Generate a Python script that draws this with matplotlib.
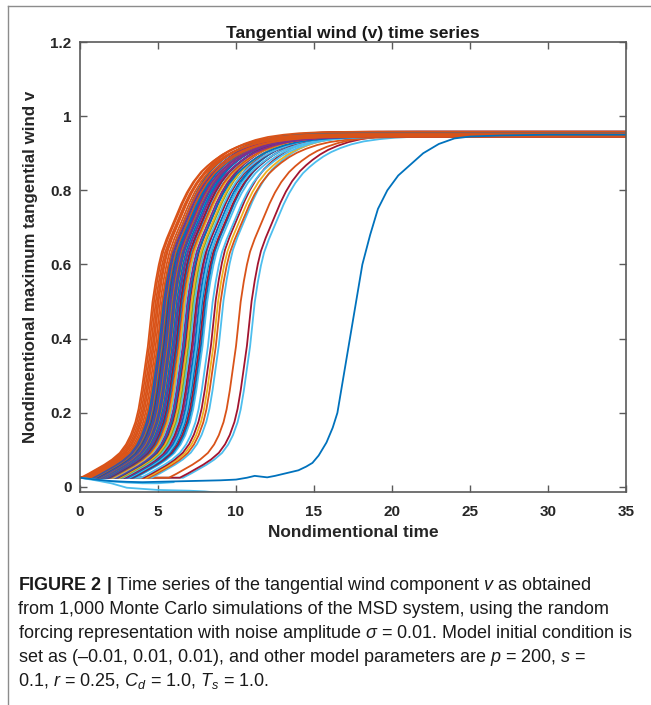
import numpy as np
import matplotlib
matplotlib.use("Agg")
import matplotlib.pyplot as plt
from matplotlib.lines import Line2D

plt.rcParams['font.family'] = ['Liberation Sans', 'DejaVu Sans']
plt.rcParams['mathtext.fontset'] = 'custom'
plt.rcParams['mathtext.rm'] = 'Liberation Sans'
plt.rcParams['mathtext.it'] = 'Liberation Sans:italic'
plt.rcParams['mathtext.bf'] = 'Liberation Sans:bold'

# ---------------- data ----------------
colors = ['#0072BD', '#D95319', '#EDB120', '#7E2F8E', '#77AC30', '#4DBEEE', '#A2142F']

# shared rise profile (time relative to v=0.5 crossing, value)
profile_rel_t = [-4.6, -4.1, -3.6, -3.1, -2.6, -2.1, -1.7, -1.4, -1.1, -0.9, -0.7, -0.5, -0.3,
                 -0.15, 0.0, 0.2, 0.4, 0.6, 0.9, 1.2, 1.5, 1.85, 2.2, 2.6, 3.1, 3.5, 3.9, 4.4,
                 4.9, 5.5, 6.2, 7.0, 8.0, 9.0, 10.5, 13.0]
profile_v = [0.025, 0.036, 0.048, 0.060, 0.074, 0.092, 0.115, 0.140, 0.175, 0.210, 0.260, 0.320,
             0.380, 0.440, 0.500, 0.555, 0.600, 0.635, 0.670, 0.700, 0.730, 0.765, 0.795, 0.823,
             0.850, 0.866, 0.880, 0.895, 0.907, 0.918, 0.928, 0.936, 0.942, 0.946, 0.949, 0.950]

# time at which each simulated curve crosses v = 0.5, and its colour index
bundle_thalf = [11.2, 11.0, 10.3, 9.2, 9.0, 8.85, 8.7, 8.5, 8.15, 8.05, 7.95, 7.85, 7.75, 7.65,
                7.55, 7.45, 7.35, 7.25, 7.15, 7.05, 6.96, 6.88, 6.78, 6.7, 6.6, 6.52, 6.44, 6.36,
                6.28, 6.2, 6.12, 6.06, 6.0, 5.94, 5.88, 5.82, 5.76, 5.7, 5.64, 5.58, 5.52, 5.46,
                5.4, 5.34, 5.25, 5.15, 5.05, 4.95, 4.85, 4.75, 4.65]
bundle_color = [5, 6, 1, 5, 1, 2, 6, 5, 5, 0, 6, 0, 5, 0,
                3, 6, 5, 4, 2, 6, 0, 3, 5, 2, 1, 0, 6, 0,
                3, 0, 1, 0, 3, 0, 1, 0, 3, 0, 6, 0, 1, 0,
                3, 0, 1, 1, 1, 1, 1, 1, 1]
plateau_levels = [0.946, 0.952, 0.949, 0.956, 0.944, 0.950, 0.958, 0.947]

# individual curves read directly
outlier_t = [0, 1, 2, 3, 4, 5, 6, 7, 8, 9, 10, 10.7, 11.2, 11.6, 12, 12.5, 13, 13.5, 14, 14.5,
             14.9, 15.3, 15.8, 16.2, 16.5, 16.9, 17.3, 17.7, 18.1, 18.6, 19.1, 19.7, 20.4, 21.2,
             22, 23, 24, 25, 27, 30, 35]
outlier_v = [0.025, 0.020, 0.016, 0.014, 0.013, 0.014, 0.015, 0.016, 0.017, 0.018, 0.020, 0.025,
             0.030, 0.028, 0.026, 0.030, 0.035, 0.040, 0.045, 0.055, 0.065, 0.085, 0.120, 0.160,
             0.200, 0.300, 0.400, 0.500, 0.600, 0.680, 0.750, 0.800, 0.840, 0.870, 0.900, 0.925,
             0.940, 0.945, 0.948, 0.950, 0.950]
decay_a_t = [0, 1, 2, 3, 4, 5, 6, 7, 8, 9, 9.5]
decay_a_v = [0.025, 0.018, 0.010, -0.002, -0.005, -0.008, -0.009, -0.010, -0.012, -0.016, -0.020]
decay_b_t = [0, 1, 2, 3, 4, 5, 6]
decay_b_v = [0.025, 0.020, 0.015, 0.012, 0.010, 0.010, 0.013]

x_ticks = [0, 5, 10, 15, 20, 25, 30, 35]
y_ticks = [0, 0.2, 0.4, 0.6, 0.8, 1.0, 1.2]
y_tick_labels = ['0', '0.2', '0.4', '0.6', '0.8', '1', '1.2']

# ---------------- figure ----------------
W, H = 651, 705
fig = plt.figure(figsize=(W / 100, H / 100), dpi=100)
ax = fig.add_axes([80 / W, 1 - 492 / H, (626 - 80) / W, (492 - 42) / H])

lw = 1.3
rel = np.array(profile_rel_t)
prof = np.array(profile_v)
for i, (th, ci) in enumerate(zip(bundle_thalf, bundle_color)):
    lev = plateau_levels[i % len(plateau_levels)]
    t = th + rel
    v = prof * lev / 0.95
    keep = t > 0
    tt = np.concatenate([[0.0], t[keep], [35.0]])
    vv = np.concatenate([[0.025], v[keep], [v[-1]]])
    ax.plot(tt, vv, color=colors[ci], lw=lw, solid_joinstyle='round')

ax.plot(decay_a_t, decay_a_v, color=colors[5], lw=lw)
ax.plot(decay_b_t, decay_b_v, color=colors[5], lw=lw)
ax.plot(outlier_t, outlier_v, color=colors[0], lw=lw)

ax.set_xlim(0, 35)
ax.set_ylim(-0.0135, 1.2)
ax.set_xticks(x_ticks)
ax.set_xticklabels([str(v) for v in x_ticks])
ax.set_yticks(y_ticks)
ax.set_yticklabels(y_tick_labels)
axis_col = '#5a5a5a'
for s in ax.spines.values():
    s.set_color(axis_col)
    s.set_linewidth(1.2)
ax.tick_params(direction='in', length=5, width=1.0, color=axis_col, top=True, right=True,
               labelsize=11, labelcolor='#262626')
ax.tick_params(axis='x', pad=9)
ax.tick_params(axis='y', pad=6)
for lab in ax.get_xticklabels() + ax.get_yticklabels():
    lab.set_fontweight('bold')

ax.set_title('Tangential wind (v) time series', fontsize=12.6, fontweight='bold', color='#1a1a1a', pad=3)
ax.set_xlabel('Nondimentional time', fontsize=12.4, fontweight='bold', color='#262626', labelpad=5)
ax.set_ylabel('Nondimentional maximum tangential wind v', fontsize=12.2, fontweight='bold',
              color='#262626', labelpad=9)

# page frame lines (top and left)
fig.add_artist(Line2D([8 / W, 1.0], [1 - 6 / H, 1 - 6 / H], color='#8c8c8c', lw=1.0,
                      transform=fig.transFigure))
fig.add_artist(Line2D([8 / W, 8 / W], [1 - 6 / H, 0.0], color='#8c8c8c', lw=1.0,
                      transform=fig.transFigure))

# caption
caption_lines = [
    r"$\mathbf{FIGURE\ 2\ |}$ Time series of the tangential wind component $v$ as obtained",
    "from 1,000 Monte Carlo simulations of the MSD system, using the random",
    r"forcing representation with noise amplitude $\sigma$ = 0.01. Model initial condition is",
    r"set as (–0.01, 0.01, 0.01), and other model parameters are $p$ = 200, $s$ =",
    r"0.1, $r$ = 0.25, $C_d$ = 1.0, $T_s$ = 1.0.",
]
caption_y = [585, 609, 633, 657, 681]
fs = 12
probe = fig.text(18 / W, 0.5, caption_lines[2], fontsize=fs)
r = fig.canvas.get_renderer()
wpx = probe.get_window_extent(renderer=r).width
probe.remove()
fs = fs * 616 / wpx
for line, y in zip(caption_lines, caption_y):
    fig.text(18 / W, 1 - y / H, line, fontsize=fs, va='center', ha='left', color='#1a1a1a')

fig.savefig('out.png', dpi=100)
